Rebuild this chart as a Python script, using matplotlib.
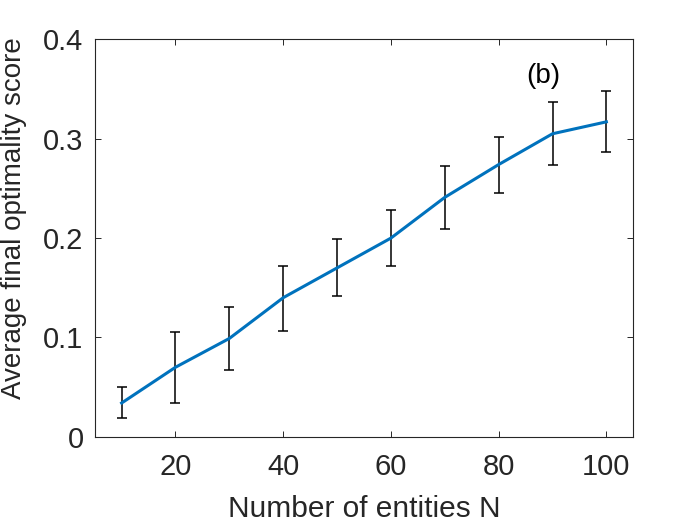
import matplotlib
matplotlib.use("Agg")
import matplotlib.pyplot as plt

n_entities = [10, 20, 30, 40, 50, 60, 70, 80, 90, 100]
mean_score = [0.034, 0.070, 0.099, 0.140, 0.170, 0.200, 0.241, 0.274, 0.305, 0.317]
err_low = [0.0185, 0.0336, 0.0668, 0.1067, 0.1416, 0.1718, 0.2088, 0.2450, 0.2735, 0.2863]
err_high = [0.0497, 0.1050, 0.1305, 0.1718, 0.1987, 0.2279, 0.2722, 0.3013, 0.3369, 0.3483]
y_ticks = [0, 0.1, 0.2, 0.3, 0.4]
y_tick_labels = ["0", "0.1", "0.2", "0.3", "0.4"]
x_ticks = [20, 40, 60, 80, 100]

plt.rcParams['font.family'] = ['Liberation Sans', 'DejaVu Sans']

fig = plt.figure(figsize=(7, 5.25), dpi=100)
ax = fig.add_axes([0.1353, 0.168, 0.7694, 0.757])

lower = [m - lo for m, lo in zip(mean_score, err_low)]
upper = [hi - m for m, hi in zip(mean_score, err_high)]
ax.errorbar(n_entities, mean_score, yerr=[lower, upper], fmt='none',
            ecolor='black', elinewidth=1.1, capsize=3.8, capthick=1.1, zorder=2)
ax.plot(n_entities, mean_score, color='#0072BD', linewidth=2.2, zorder=3)

ax.text(88.3, 0.363, "(b)", fontsize=20, ha='center', va='center', color='black')

ax.set_xlim(5, 105)
ax.set_ylim(0, 0.4)
ax.set_xticks(x_ticks)
ax.set_yticks(y_ticks)
ax.set_yticklabels(y_tick_labels)
ax.tick_params(direction='in', length=4, width=0.7, top=True, right=True,
               labelsize=21, colors='#262626')
ax.tick_params(axis='x', pad=12)
ax.tick_params(axis='y', pad=8)
for s in ax.spines.values():
    s.set_linewidth(0.8)
    s.set_color('#262626')

ax.set_xlabel("Number of entities N", fontsize=21.5, color='#262626', labelpad=10)
ax.set_ylabel("Average final optimality score", fontsize=20, color='#262626')
ax.yaxis.set_label_coords(-0.125, 0.55)

fig.savefig("out.png", dpi=100)
